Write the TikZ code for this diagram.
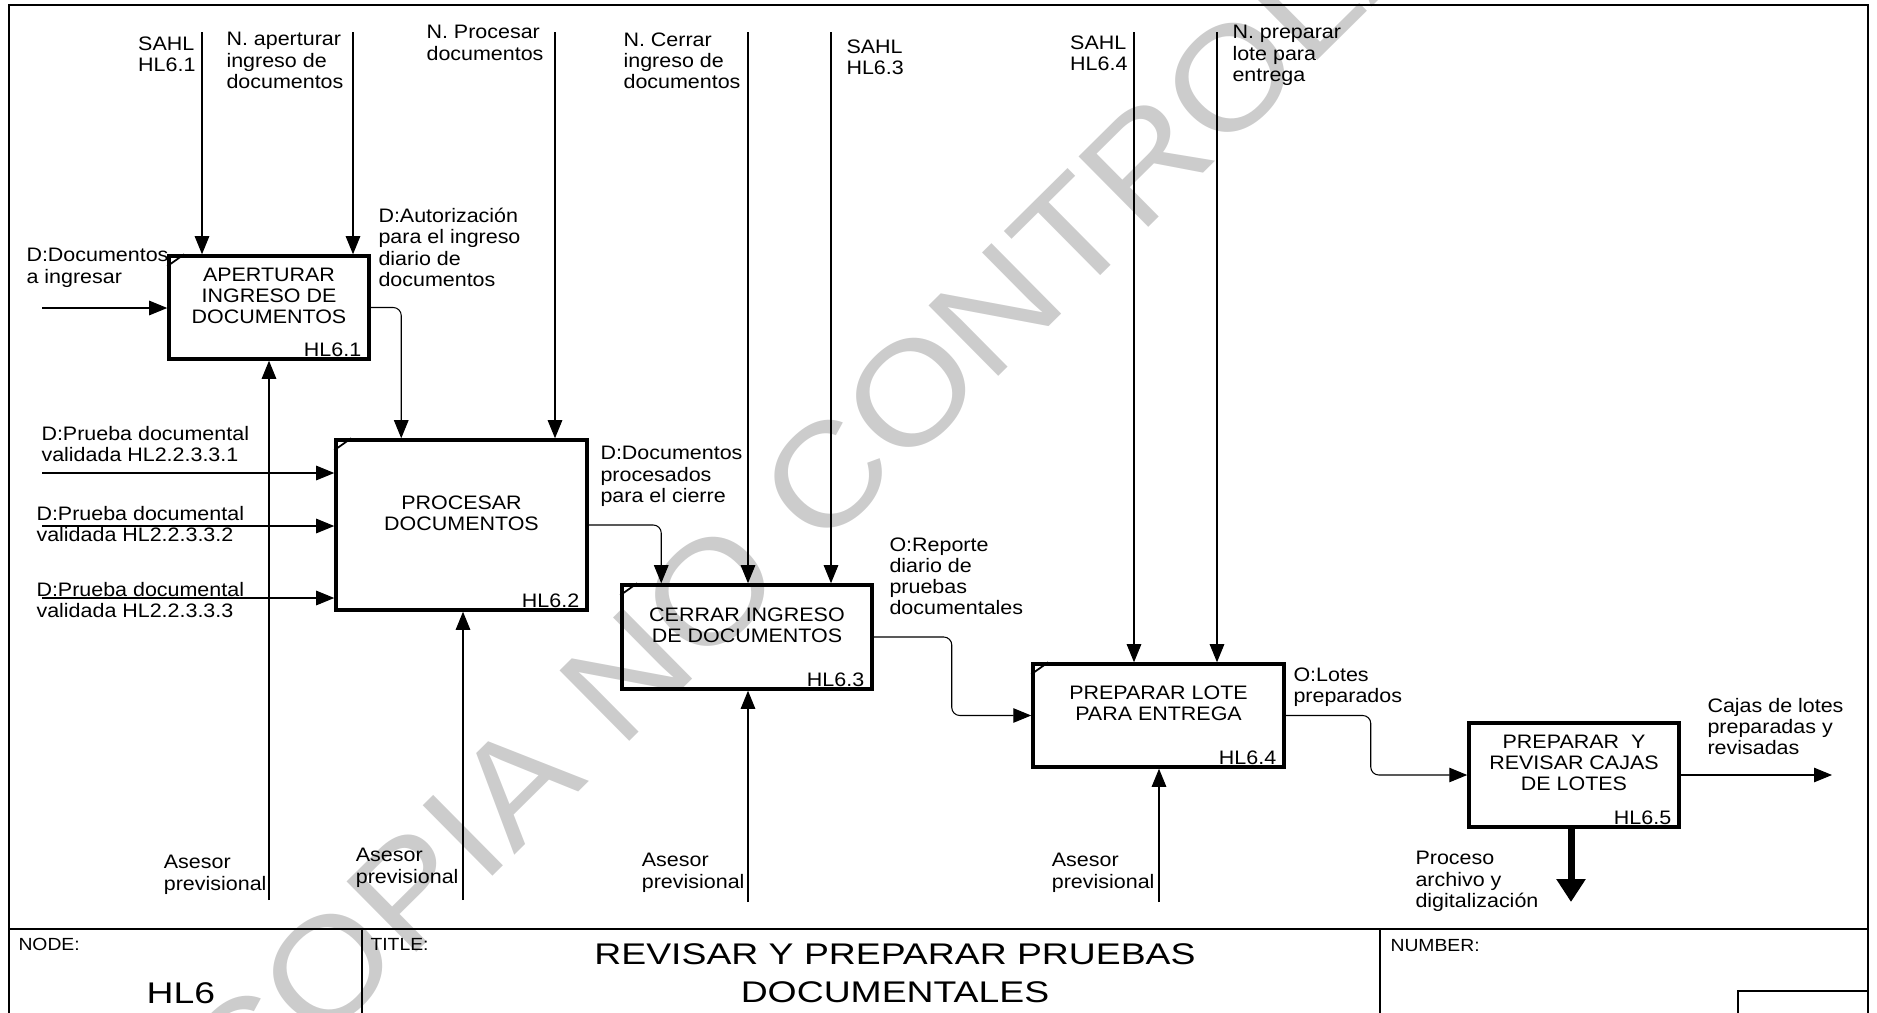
\documentclass[tikz,border=0pt]{standalone}
\usepackage{fontspec}
\setmainfont{Liberation Sans}[FakeStretch=1.1]
\newfontfamily\bigfont{Liberation Sans}[FakeStretch=1.25]
\usetikzlibrary{arrows.meta}

\begin{document}
\begin{tikzpicture}[x=0.2mm, y=-0.2mm, line width=0.6pt,
    font=\fontsize{11.1}{12}\selectfont,
    every node/.style={inner sep=0pt},
    act/.style={draw, line width=2pt},
    lbl/.style={align=left},
    arr/.style={-{Triangle[length=3.6mm, width=2.9mm]}},
    link/.style={arr, rounded corners=1.6mm}]

\useasboundingbox (0,0) rectangle (1877,1013);
\clip (0,0) rectangle (1877,1013);

% marca de agua
\node[text=black!20, rotate=44.7, font=\fontsize{82}{82}\selectfont] (wm) at (886,418) {COPIA NO CONTROLADA};

% marco
\draw[line width=0.8pt] (9,1013) -- (9,5) -- (1868,5) -- (1868,1013);

% actividades
\node[act, minimum width=40mm, minimum height=20.6mm] (apert) at (269,307.5) {};
\node[act, minimum width=50.2mm, minimum height=34mm] (proc) at (461.5,525) {};
\node[act, minimum width=50mm, minimum height=20.8mm] (cerrar) at (747,637) {};
\node[act, minimum width=50.2mm, minimum height=20.6mm] (lote) at (1158.5,715.5) {};
\node[act, minimum width=42mm, minimum height=20.8mm] (cajas) at (1574,775) {};

\node[align=center] (apert-t) at ([yshift=2.4mm]apert.center) {APERTURAR\\INGRESO DE\\DOCUMENTOS};
\node[align=center] (proc-t) at ([yshift=2.4mm]proc.center) {PROCESAR\\DOCUMENTOS};
\node[align=center] (cerrar-t) at ([yshift=2.4mm]cerrar.center) {CERRAR INGRESO\\DE DOCUMENTOS};
\node[align=center] (lote-t) at ([yshift=2.4mm]lote.center) {PREPARAR LOTE\\PARA ENTREGA};
\node[align=center] (cajas-t) at ([yshift=2.4mm]cajas.center) {PREPARAR\ \ Y\\REVISAR CAJAS\\DE LOTES};

\node[anchor=base east] (apert-id) at ([xshift=-1.8mm, yshift=0.9mm]apert.south east) {HL6.1};
\node[anchor=base east] (proc-id) at ([xshift=-1.8mm, yshift=0.9mm]proc.south east) {HL6.2};
\node[anchor=base east] (cerrar-id) at ([xshift=-1.8mm, yshift=0.9mm]cerrar.south east) {HL6.3};
\node[anchor=base east] (lote-id) at ([xshift=-1.8mm, yshift=0.9mm]lote.south east) {HL6.4};
\node[anchor=base east] (cajas-id) at ([xshift=-1.8mm, yshift=0.9mm]cajas.south east) {HL6.5};

\foreach \b in {apert,proc,cerrar,lote}
  \draw[line width=1pt] ([yshift=-2.4mm]\b.north west) -- ([xshift=3.4mm]\b.north west);

% controles
\coordinate (c1) at (202,32);
\coordinate (c2) at (353,32);
\coordinate (c3) at (555,32);
\coordinate (c4) at (748,32);
\coordinate (c5) at (831,32);
\coordinate (c6) at (1134,32);
\coordinate (c7) at (1217,32);
\draw[arr] (c1) -- (c1 |- apert.north);
\draw[arr] (c2) -- (c2 |- apert.north);
\draw[arr] (c3) -- (c3 |- proc.north);
\draw[arr] (c4) -- (c4 |- cerrar.north);
\draw[arr] (c5) -- (c5 |- cerrar.north);
\draw[arr] (c6) -- (c6 |- lote.north);
\draw[arr] (c7) -- (c7 |- lote.north);

% entradas
\coordinate (i1) at (42,308);
\coordinate (i2) at (42,473);
\coordinate (i3) at (42,526);
\coordinate (i4) at (42,598);
\draw[arr] (i1) -- (i1 -| apert.west);
\foreach \i in {i2,i3,i4}
  \draw[arr] (\i) -- (\i -| proc.west);

% mecanismos
\coordinate (m1) at (269,900);
\coordinate (m2) at (463,900);
\coordinate (m3) at (748,902);
\coordinate (m4) at (1159,902);
\draw[arr] (m1) -- (m1 |- apert.south);
\draw[arr] (m2) -- (m2 |- proc.south);
\draw[arr] (m3) -- (m3 |- cerrar.south);
\draw[arr] (m4) -- (m4 |- lote.south);

% enlaces
\draw[link] (apert.east) -| ([xshift=13.4mm]proc.north west);
\draw[link] (proc.east) -| ([xshift=8.2mm]cerrar.north west);
\draw[link] (cerrar.east) -- ++(15.6mm,0mm) |- (lote.west);
\draw[link] (lote.east) -- ++(17mm,0mm) |- (cajas.west);

% salidas
\coordinate (o1) at (1832,775);
\coordinate (o2) at (1571,902);
\draw[arr] (cajas.east) -- (o1);
\draw[line width=1.4mm, -{Triangle[length=4.6mm, width=5.6mm]}] (cajas.south -| o2) -- (o2);

% etiquetas
\node[lbl, anchor=north east] (l-sahl1) at (196,36) {SAHL\\HL6.1};
\node[lbl, anchor=north west] (l-napert) at (226,32) {N. aperturar\\ingreso de\\documentos};
\node[lbl, anchor=north east] (l-nproc) at (544,25) {N. Procesar\\documentos};
\node[lbl, anchor=north west] (l-docs) at (26,248) {D:Documentos\\a ingresar};
\node[lbl, anchor=north west] (l-autor) at (378,208) {D:Autorización\\para el ingreso\\diario de\\documentos};
\node[lbl, anchor=north west] (l-pd1) at (41,426) {D:Prueba documental\\validada HL2.2.3.3.1};
\node[lbl, anchor=north west] (l-pd2) at (36,506) {D:Prueba documental\\validada HL2.2.3.3.2};
\node[lbl, anchor=north west] (l-pd3) at (36,582) {D:Prueba documental\\validada HL2.2.3.3.3};
\node[lbl, anchor=north east] (l-ase1) at (267,855) {Asesor\\previsional};
\node[lbl, anchor=north east] (l-ase2) at (459,848) {Asesor\\previsional};
\node[lbl, anchor=north west] (l-dproc) at (600,446) {D:Documentos\\procesados\\para el cierre};
\node[lbl, anchor=north east] (l-ncerr) at (741,32) {N. Cerrar\\ingreso de\\documentos};
\node[lbl, anchor=north west] (l-sahl3) at (846,39) {SAHL\\HL6.3};
\node[lbl, anchor=north east] (l-ase3) at (745,853) {Asesor\\previsional};
\node[lbl, anchor=north west] (l-rep) at (889,537) {O:Reporte\\diario de\\pruebas\\documentales};
\node[lbl, anchor=north east] (l-sahl4) at (1128,35) {SAHL\\HL6.4};
\node[lbl, anchor=north west] (l-nprep) at (1232,25) {N. preparar\\lote para\\entrega};
\node[lbl, anchor=north east] (l-ase4) at (1155,853) {Asesor\\previsional};
\node[lbl, anchor=north west] (l-lotes) at (1293,667) {O:Lotes\\preparados};
\node[lbl, anchor=north west] (l-cajas) at (1707,698) {Cajas de lotes\\preparadas y\\revisadas};
\node[lbl, anchor=north west] (l-arch) at (1415,851) {Proceso\\archivo y\\digitalización};

% cajetin
\draw[line width=0.8pt] (9,929) -- (1868,929);
\draw (362,929) -- (362,1013);
\draw (1380,929) -- (1380,1013);
\draw (1738,1013) |- (1868,991);
\node[anchor=north west, font=\fontsize{10}{12}\selectfont] (t-node) at (18,938) {NODE:};
\node[anchor=north west, font=\fontsize{10}{12}\selectfont] (t-title) at (370,938) {TITLE:};
\node[anchor=north west, font=\fontsize{10}{12}\selectfont] (t-num) at (1390,939) {NUMBER:};
\node[font=\bigfont\fontsize{17}{20}\selectfont] (t-hl6) at (181,993) {HL6};
\node[align=center, font=\bigfont\fontsize{17}{21.6}\selectfont] (t-name) at (895,973) {REVISAR Y PREPARAR PRUEBAS\\DOCUMENTALES};
\end{tikzpicture}
\end{document}
